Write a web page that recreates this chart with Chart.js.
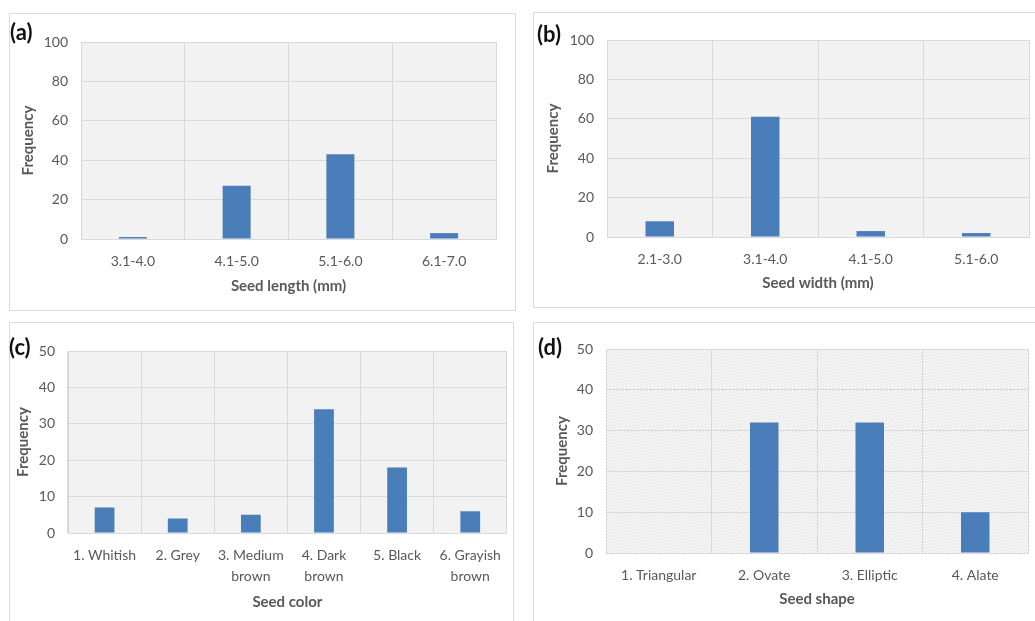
<!DOCTYPE html>
<html>
<head>
<meta charset="utf-8">
<script src="https://cdn.jsdelivr.net/npm/chart.js@4.4.0/dist/chart.umd.min.js"></script>
<style>
    body { margin: 0; width: 1035px; height: 621px; overflow: hidden; background: #fff; position: relative; }
    .panel { position: absolute; border: 1px solid #dcdcdc; box-sizing: border-box; }
    .tag { position: absolute; font-family: Lato, sans-serif; font-weight: 700; font-size: 22px; line-height: 26px; color: #111; }
    canvas { position: absolute; }
</style>
</head>
<body>
<div class="panel" style="left:9px;top:13px;width:507px;height:298px;"></div>
<div class="panel" style="left:533px;top:12px;width:520px;height:296px;"></div>
<div class="panel" style="left:9px;top:322px;width:505px;height:320px;"></div>
<div class="panel" style="left:533px;top:322px;width:520px;height:320px;"></div>

<canvas id="chartA"></canvas>
<canvas id="chartB"></canvas>
<canvas id="chartC"></canvas>
<canvas id="chartD"></canvas>

<div class="tag" style="left:10px;top:19px;">(a)</div>
<div class="tag" style="left:537px;top:21px;">(b)</div>
<div class="tag" style="left:9px;top:334px;">(c)</div>
<div class="tag" style="left:538px;top:334px;">(d)</div>

<script>
// Data
const lengthLabels = ["3.1-4.0", "4.1-5.0", "5.1-6.0", "6.1-7.0"];
const lengthValues = [1, 27, 43, 3];

const widthLabels = ["2.1-3.0", "3.1-4.0", "4.1-5.0", "5.1-6.0"];
const widthValues = [8, 61, 3, 2];

const colorLabels = ["1. Whitish", "2. Grey", ["3. Medium", "brown"], ["4. Dark", "brown"], "5. Black", ["6. Grayish", "brown"]];
const colorValues = [7, 4, 5, 34, 18, 6];

const shapeLabels = ["1. Triangular", "2. Ovate", "3. Elliptic", "4. Alate"];
const shapeValues = [0, 32, 32, 10];

const sizeTicks = {max: 100, step: 20};
const countTicks = {max: 50, step: 10};

const barColor = "#4a7ebb";
const gridColor = "#d9d9d9";
const textColor = "#595959";

// fine diagonal hatch used behind panel (d)
function makeHatch() {
    let c = document.createElement("canvas");
    c.width = 3;
    c.height = 3;
    let g = c.getContext("2d");
    g.fillStyle = "#f8f8f8";
    g.fillRect(0, 0, 3, 3);
    g.strokeStyle = "#e2e2e2";
    g.lineWidth = 1;
    g.beginPath();
    g.moveTo(-1, -1);
    g.lineTo(4, 4);
    g.moveTo(-1, 2);
    g.lineTo(1, 4);
    g.moveTo(2, -1);
    g.lineTo(4, 1);
    g.stroke();
    return g.createPattern(c, "repeat");
}

const plotBackground = {
    id: "plotBackground",
    beforeDraw: function (chart, args, opts) {
        let a = chart.chartArea;
        let ctx = chart.ctx;
        ctx.save();
        ctx.fillStyle = opts.hatch ? makeHatch() : "#f2f2f2";
        ctx.fillRect(a.left, a.top, a.right - a.left, a.bottom - a.top);
        ctx.restore();
    }
};

// box = canvas rect, plot = wanted chart area (page coords)
function drawPanel(id, labels, values, ticks, xTitle, box, plot, yTitleX, xTitleY, hatch) {
    let el = document.getElementById(id);
    el.style.left = box.left + "px";
    el.style.top = box.top + "px";
    el.style.width = box.width + "px";
    el.style.height = box.height + "px";
    el.width = box.width;
    el.height = box.height;

    let yWidth = plot.left - box.left;
    let xHeight = box.top + box.height - plot.bottom;

    return new Chart(el.getContext("2d"), {
        type: "bar",
        data: {
            labels: labels,
            datasets: [{
                data: values,
                backgroundColor: barColor,
                borderWidth: 0,
                categoryPercentage: 1.0,
                barPercentage: 0.27
            }]
        },
        plugins: [plotBackground],
        options: {
            responsive: false,
            animation: false,
            layout: {
                padding: {
                    left: 0,
                    top: plot.top - box.top,
                    right: box.left + box.width - plot.right,
                    bottom: 0
                }
            },
            plugins: {
                legend: {display: false},
                tooltip: {enabled: false},
                plotBackground: {hatch: hatch}
            },
            scales: {
                x: {
                    grid: {color: gridColor, drawTicks: false, offset: true},
                    border: {color: gridColor},
                    ticks: {
                        color: textColor,
                        font: {family: "Lato", size: 14, lineHeight: 1.5},
                        padding: 12,
                        maxRotation: 0,
                        autoSkip: false
                    },
                    title: {
                        display: true,
                        text: xTitle,
                        color: textColor,
                        font: {family: "Lato", size: 15, weight: "bold"},
                        padding: {top: 0, bottom: box.top + box.height - xTitleY - 9}
                    },
                    afterFit: function (s) {
                        s.height = xHeight;
                    }
                },
                y: {
                    min: 0,
                    max: ticks.max,
                    grid: {color: gridColor, drawTicks: false},
                    border: {color: gridColor},
                    ticks: {
                        stepSize: ticks.step,
                        color: textColor,
                        font: {family: "Lato", size: 14},
                        padding: 13
                    },
                    title: {
                        display: true,
                        text: "Frequency",
                        color: textColor,
                        font: {family: "Lato", size: 15, weight: "bold"},
                        padding: {top: yTitleX - box.left - 9, bottom: 0}
                    },
                    afterFit: function (s) {
                        s.width = yWidth;
                    }
                }
            }
        }
    });
}

drawPanel("chartA", lengthLabels, lengthValues, sizeTicks, "Seed length (mm)",
    {left: 10, top: 14, width: 505, height: 296},
    {left: 81, top: 42, right: 496, bottom: 239}, 28, 286, false);

drawPanel("chartB", widthLabels, widthValues, sizeTicks, "Seed width (mm)",
    {left: 534, top: 13, width: 501, height: 294},
    {left: 607, top: 40, right: 1029, bottom: 237}, 553, 283, false);

drawPanel("chartC", colorLabels, colorValues, countTicks, "Seed color",
    {left: 10, top: 323, width: 503, height: 298},
    {left: 68, top: 351, right: 512, bottom: 533}, 23, 602, false);

drawPanel("chartD", shapeLabels, shapeValues, countTicks, "Seed shape",
    {left: 534, top: 323, width: 501, height: 298},
    {left: 606, top: 349, right: 1028, bottom: 553}, 562, 599, true);
</script>
</body>
</html>
